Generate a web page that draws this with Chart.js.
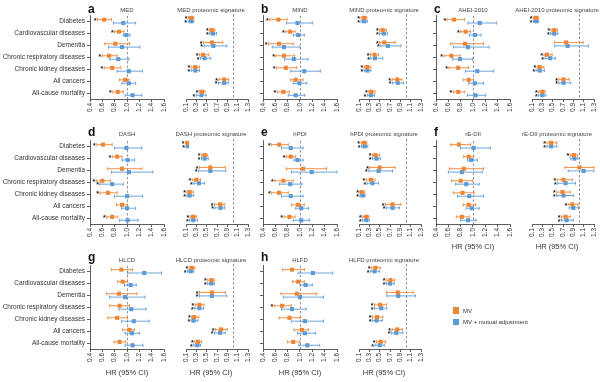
<!DOCTYPE html>
<html><head><meta charset="utf-8">
<script src="https://cdn.jsdelivr.net/npm/chart.js@4.4.1/dist/chart.umd.min.js"></script>
<style>
body{margin:0;background:#fff;}
#wrap{position:relative;width:600px;height:382px;overflow:hidden;font-family:"Liberation Sans",Arial,sans-serif;color:#333;}
#wrap canvas{position:absolute;}
.t{position:absolute;font-size:6px;color:#444;transform:translate(-50%,-50%);white-space:nowrap;line-height:1;}
.L{position:absolute;font-weight:bold;font-size:12px;color:#111;line-height:1;}
.ax{position:absolute;font-size:7.5px;color:#333;transform:translate(-50%,-50%);white-space:nowrap;line-height:1;}
.lg{position:absolute;font-size:6px;color:#333;white-space:nowrap;line-height:1;}
.sw{position:absolute;width:6.5px;height:6.5px;}
</style></head><body><div id="wrap"></div>
<script>
// ---------------- data ----------------
const categories = ["Diabetes","Cardiovascular diseases","Dementia","Chronic respiratory diseases","Chronic kidney diseases","All cancers","All-cause mortality"];
const leftTicks  = [0.4,0.6,0.8,1.0,1.2,1.4,1.6];
const rightTicks = [0.1,0.3,0.5,0.7,0.9,1.1,1.3];
const seriesNames = ["MV","MV + mutual adjustment"];
// each row: [HR, lower 95% CI, upper 95% CI, significant(1/0)]
const MED_MV  = [[0.63,0.52,0.75,1],[0.87,0.80,0.95,1],[0.81,0.64,1.04,0],[0.71,0.60,0.84,1],[0.76,0.63,0.90,1],[0.97,0.88,1.03,0],[0.85,0.77,0.94,1]];
const MED_ADJ = [[0.94,0.78,1.14,0],[0.99,0.94,1.05,0],[0.92,0.70,1.21,0],[0.86,0.72,1.03,0],[1.03,0.84,1.25,0],[1.03,0.92,1.14,0],[1.09,0.97,1.24,0]];
const MED_PS_MV  = [[0.20,0.15,0.25,1],[0.60,0.56,0.66,1],[0.60,0.44,0.81,1],[0.43,0.36,0.54,1],[0.28,0.20,0.36,1],[0.84,0.74,0.92,1],[0.41,0.36,0.47,1]];
const MED_PS_ADJ = [[0.20,0.14,0.25,1],[0.62,0.56,0.69,1],[0.63,0.45,0.89,1],[0.46,0.38,0.58,1],[0.28,0.20,0.36,1],[0.84,0.73,0.92,1],[0.40,0.30,0.49,1]];

const MIND_MV  = [[0.65,0.51,0.79,1],[0.84,0.77,0.92,1],[0.66,0.49,0.89,1],[0.74,0.61,0.91,1],[0.77,0.62,0.95,1],[0.93,0.85,1.05,0],[0.73,0.63,0.83,1]];
const MIND_ADJ = [[0.96,0.78,1.20,0],[0.97,0.89,1.07,0],[0.74,0.55,1.00,0],[0.90,0.75,1.13,0],[1.07,0.85,1.33,0],[0.99,0.89,1.11,0],[0.93,0.81,1.08,0]];
const MIND_PS_MV  = [[0.20,0.14,0.25,1],[0.56,0.50,0.63,1],[0.59,0.50,0.80,1],[0.40,0.32,0.48,1],[0.26,0.20,0.33,1],[0.84,0.74,0.93,1],[0.34,0.29,0.41,1]];
const MIND_PS_ADJ = [[0.20,0.14,0.26,1],[0.58,0.50,0.65,1],[0.66,0.52,0.91,1],[0.41,0.33,0.56,1],[0.26,0.20,0.33,1],[0.85,0.75,0.96,1],[0.33,0.26,0.40,1]];

const AHEI_MV  = [[0.69,0.58,0.86,1],[0.88,0.80,0.96,1],[0.87,0.64,1.17,0],[0.65,0.53,0.79,1],[0.76,0.61,0.93,1],[0.93,0.84,1.01,0],[0.76,0.68,0.86,1]];
const AHEI_ADJ = [[1.11,0.92,1.38,0],[1.03,0.94,1.13,0],[0.92,0.68,1.26,0],[0.79,0.67,0.99,0],[1.07,0.88,1.33,0],[1.03,0.93,1.17,0],[1.04,0.91,1.20,0]];
const AHEI_PS_MV  = [[0.18,0.13,0.23,1],[0.53,0.47,0.59,1],[0.76,0.53,1.09,0],[0.39,0.33,0.49,1],[0.25,0.20,0.33,1],[0.71,0.62,0.82,1],[0.30,0.23,0.35,1]];
const AHEI_PS_ADJ = [[0.18,0.13,0.23,1],[0.53,0.46,0.60,1],[0.79,0.54,1.19,0],[0.45,0.35,0.55,1],[0.25,0.18,0.34,1],[0.71,0.62,0.85,1],[0.30,0.23,0.37,1]];

const DASH_MV  = [[0.61,0.51,0.76,1],[0.84,0.76,0.92,1],[0.92,0.68,1.24,0],[0.60,0.50,0.73,1],[0.69,0.56,0.84,1],[0.92,0.83,1.01,0],[0.76,0.67,0.85,1]];
const DASH_ADJ = [[0.99,0.80,1.24,0],[1.01,0.92,1.12,0],[1.03,0.75,1.42,0],[0.76,0.56,0.94,1],[1.00,0.80,1.25,0],[1.00,0.91,1.14,0],[1.01,0.88,1.18,0]];
const DASH_PS_MV  = [[0.12,0.09,0.14,1],[0.46,0.40,0.52,1],[0.57,0.36,0.86,1],[0.30,0.22,0.38,1],[0.17,0.12,0.24,1],[0.76,0.65,0.84,1],[0.24,0.18,0.30,1]];
const DASH_PS_ADJ = [[0.12,0.10,0.15,1],[0.46,0.40,0.53,1],[0.57,0.34,0.87,1],[0.35,0.25,0.46,1],[0.17,0.12,0.25,1],[0.77,0.66,0.85,1],[0.24,0.17,0.32,1]];

const HPDI_MV  = [[0.66,0.54,0.81,1],[0.85,0.78,0.93,1],[1.05,0.78,1.43,0],[0.73,0.59,0.89,1],[0.66,0.54,0.81,1],[0.97,0.86,1.07,0],[0.83,0.74,0.92,1]];
const HPDI_ADJ = [[0.85,0.70,1.05,0],[0.96,0.90,1.05,0],[1.19,0.86,1.60,0],[0.84,0.67,1.03,0],[0.85,0.70,1.05,0],[1.02,0.93,1.14,0],[1.02,0.89,1.15,0]];
const HPDI_PS_MV  = [[0.20,0.14,0.25,1],[0.42,0.36,0.50,1],[0.50,0.31,0.80,1],[0.33,0.24,0.41,1],[0.15,0.12,0.21,1],[0.75,0.61,0.91,1],[0.24,0.17,0.29,1]];
const HPDI_PS_ADJ = [[0.21,0.15,0.27,1],[0.44,0.36,0.52,1],[0.48,0.29,0.75,1],[0.36,0.26,0.48,1],[0.17,0.12,0.22,1],[0.75,0.63,0.88,1],[0.24,0.17,0.30,1]];

const EDII_MV  = [[0.77,0.64,0.96,0],[0.93,0.85,1.01,0],[0.85,0.62,1.17,0],[0.80,0.65,0.99,0],[0.83,0.68,1.02,0],[0.93,0.84,1.04,0],[0.82,0.73,0.94,0]];
const EDII_ADJ = [[1.01,0.80,1.28,0],[0.97,0.91,1.07,0],[0.82,0.60,1.15,0],[0.89,0.72,1.10,0],[0.94,0.75,1.17,0],[0.98,0.89,1.10,0],[0.92,0.80,1.05,0]];
const EDII_PS_MV  = [[0.47,0.39,0.58,1],[0.91,0.84,0.98,1],[1.02,0.74,1.30,0],[0.71,0.59,0.88,1],[0.69,0.58,0.84,1],[0.88,0.80,0.99,1],[0.75,0.67,0.84,1]];
const EDII_PS_ADJ = [[0.47,0.39,0.58,1],[0.92,0.84,0.99,0],[1.10,0.80,1.30,0],[0.75,0.60,0.94,1],[0.71,0.58,0.90,1],[0.90,0.82,1.00,0],[0.77,0.67,0.90,1]];

const HLCD_MV  = [[0.91,0.75,1.09,0],[0.93,0.85,1.01,0],[0.87,0.67,1.16,0],[0.88,0.72,1.04,0],[0.84,0.69,1.01,0],[1.04,0.93,1.12,0],[0.88,0.79,0.98,0]];
const HLCD_ADJ = [[1.28,1.01,1.56,0],[1.06,0.96,1.15,0],[0.97,0.72,1.29,0],[1.07,0.87,1.31,0],[1.11,0.91,1.36,0],[1.08,0.97,1.20,0],[1.09,0.97,1.26,0]];
const HLCD_PS_MV  = [[0.21,0.16,0.27,1],[0.59,0.52,0.65,1],[0.60,0.36,0.86,1],[0.36,0.28,0.45,1],[0.26,0.21,0.35,1],[0.78,0.67,0.90,1],[0.33,0.27,0.40,1]];
const HLCD_PS_ADJ = [[0.19,0.13,0.25,1],[0.59,0.52,0.65,1],[0.60,0.36,0.89,1],[0.36,0.27,0.44,1],[0.25,0.20,0.33,1],[0.76,0.65,0.86,1],[0.32,0.25,0.38,1]];

const HLFD_MV  = [[0.87,0.72,1.07,0],[0.97,0.88,1.07,0],[0.95,0.69,1.27,0],[0.71,0.58,0.86,1],[0.83,0.66,1.00,0],[1.03,0.90,1.14,0],[0.89,0.80,0.99,0]];
const HLFD_ADJ = [[1.21,0.97,1.53,0],[1.09,1.00,1.20,0],[1.00,0.73,1.38,0],[0.87,0.70,1.10,0],[1.08,0.86,1.38,0],[1.08,0.96,1.25,0],[1.12,0.98,1.32,0]];
const HLFD_PS_MV  = [[0.42,0.34,0.51,1],[0.71,0.63,0.79,1],[0.85,0.63,1.15,0],[0.51,0.40,0.63,1],[0.45,0.36,0.56,1],[0.84,0.74,0.94,1],[0.52,0.44,0.61,1]];
const HLFD_PS_ADJ = [[0.40,0.32,0.50,1],[0.70,0.63,0.78,1],[0.86,0.64,1.19,0],[0.53,0.40,0.64,1],[0.44,0.36,0.55,1],[0.82,0.73,0.95,1],[0.50,0.41,0.59,1]];

const panelLetters = ["a","b","c","d","e","f","g","h"];
const panelNames = ["MED","MIND","AHEI-2010","DASH","hPDI","rE-DII","HLCD","HLFD"];
const panelData = [
  [MED_MV,MED_ADJ,MED_PS_MV,MED_PS_ADJ],[MIND_MV,MIND_ADJ,MIND_PS_MV,MIND_PS_ADJ],[AHEI_MV,AHEI_ADJ,AHEI_PS_MV,AHEI_PS_ADJ],
  [DASH_MV,DASH_ADJ,DASH_PS_MV,DASH_PS_ADJ],[HPDI_MV,HPDI_ADJ,HPDI_PS_MV,HPDI_PS_ADJ],[EDII_MV,EDII_ADJ,EDII_PS_MV,EDII_PS_ADJ],
  [HLCD_MV,HLCD_ADJ,HLCD_PS_MV,HLCD_PS_ADJ],[HLFD_MV,HLFD_ADJ,HLFD_PS_MV,HLFD_PS_ADJ]
];
const axisTitle = "HR (95% CI)";
const subtitleSuffix = " proteomic signature";

// ---------------- layout & style ----------------
const FONT = '"Liberation Sans", Arial, sans-serif';
const ORANGE = '#EE8636', BLUE = '#5C9BD6', INK = '#333';
const COLX = [90, 263, 436], RIGHT_OFF = 84, PW = 74;
const ROWT = [14, 139, 264], PH = 85;
const OFF = 0.14;
const wrap = document.getElementById('wrap');

const ciPlugin = {
  id: 'ci',
  beforeDatasetsDraw(chart) {
    const {ctx, chartArea} = chart; const x = chart.scales.x, y = chart.scales.y;
    ctx.save();
    const x1 = Math.round(x.getPixelForValue(1)) + 0.5;
    ctx.strokeStyle = '#777'; ctx.lineWidth = 0.8; ctx.setLineDash([2.5, 2]);
    ctx.beginPath(); ctx.moveTo(x1, chartArea.top); ctx.lineTo(x1, chartArea.bottom); ctx.stroke();
    ctx.setLineDash([]);
    chart.data.datasets.forEach(ds => {
      ds.ci.forEach((d, i) => {
        const yy = y.getPixelForValue(i + ds.off);
        const a = x.getPixelForValue(d[1]), b = x.getPixelForValue(d[2]);
        ctx.strokeStyle = ds.borderColor; ctx.lineWidth = 0.9;
        ctx.beginPath();
        ctx.moveTo(a, yy); ctx.lineTo(b, yy);
        ctx.moveTo(a, yy - 1.6); ctx.lineTo(a, yy + 1.6);
        ctx.moveTo(b, yy - 1.6); ctx.lineTo(b, yy + 1.6);
        ctx.stroke();
        if (d[3]) {
          ctx.fillStyle = '#222'; ctx.font = 'bold 7px ' + FONT;
          ctx.textAlign = 'right'; ctx.textBaseline = 'middle';
          ctx.fillText('*', a - 1, yy + 1.4);
        }
      });
    });
    ctx.restore();
  }
};

function makeChart(plotLeft, plotTop, mv, adj, ticks, showY, showLabels) {
  const L = showLabels ? 88 : 12, T = 4, R = 10, B = 22;
  const cv = document.createElement('canvas');
  cv.width = L + PW + R; cv.height = T + PH + B;
  cv.style.left = (plotLeft - L) + 'px'; cv.style.top = (plotTop - T) + 'px';
  cv.style.width = cv.width + 'px'; cv.style.height = cv.height + 'px';
  wrap.appendChild(cv);
  const mk = (arr, off, col, name) => ({
    label: name, data: arr.map((d, i) => ({x: d[0], y: i + off})), ci: arr, off: off,
    backgroundColor: col, borderColor: col, pointStyle: 'rect', pointRadius: 2.9, pointHoverRadius: 2.9, borderWidth: 0
  });
  new Chart(cv, {
    type: 'scatter',
    data: {datasets: [mk(mv, -OFF, ORANGE, seriesNames[0]), mk(adj, OFF, BLUE, seriesNames[1])]},
    options: {
      responsive: false, animation: false, devicePixelRatio: 1,
      layout: {padding: {top: T, right: R, left: showY ? 0 : L, bottom: 0}},
      plugins: {legend: {display: false}, tooltip: {enabled: false}},
      scales: {
        x: {
          type: 'linear', min: ticks[0], max: ticks[ticks.length - 1],
          afterBuildTicks: s => { s.ticks = ticks.map(v => ({value: v})); },
          afterFit: s => { s.height = B; },
          ticks: {autoSkip: false, minRotation: 90, maxRotation: 90, padding: 1, color: INK,
                  font: {size: 6.5, family: FONT}, callback: v => Number(v).toFixed(1)},
          grid: {display: true, drawOnChartArea: false, drawTicks: true, tickLength: 3, color: INK, lineWidth: 0.8},
          border: {display: true, color: INK, width: 0.8}
        },
        y: {
          type: 'linear', display: showY, reverse: true, min: -0.45, max: 6.45,
          afterBuildTicks: s => { s.ticks = categories.map((c, i) => ({value: i})); },
          afterFit: s => { s.width = L; },
          ticks: {autoSkip: false, padding: 2, color: INK, font: {size: 6.5, family: FONT},
                  callback: (v, i) => showLabels ? categories[i] : ''},
          grid: {display: true, drawOnChartArea: false, drawTicks: true, tickLength: 3, color: INK, lineWidth: 0.8},
          border: {display: true, color: INK, width: 0.8}
        }
      }
    },
    plugins: [ciPlugin]
  });
}

function addText(cls, txt, x, y) {
  const d = document.createElement('div'); d.className = cls; d.textContent = txt;
  d.style.left = x + 'px'; d.style.top = y + 'px'; wrap.appendChild(d); return d;
}

const titleY = [9.5, 134, 259.5];
const letterY = [2.5, 126, 250.5];
panelData.forEach((pd, p) => {
  const col = p % 3, row = Math.floor(p / 3);
  const xl = COLX[col], xr = COLX[col] + RIGHT_OFF, yt = ROWT[row];
  makeChart(xl, yt, pd[0], pd[1], leftTicks, true, col === 0);
  makeChart(xr, yt, pd[2], pd[3], rightTicks, false, false);
  addText('t', panelNames[p], xl + PW / 2, titleY[row]);
  addText('t', panelNames[p] + subtitleSuffix, xr + PW / 2, titleY[row]);
  addText('L', panelLetters[p], xl - 2, letterY[row]);
  if (p === 5 || row === 2) {
    const ay = row === 1 ? 247 : 373;
    addText('ax', axisTitle, xl + PW / 2, ay);
    addText('ax', axisTitle, xr + PW / 2, ay);
  }
});

// legend
[[ORANGE, seriesNames[0], 307.3], [BLUE, seriesNames[1], 318.5]].forEach(([c, name, y]) => {
  const s = document.createElement('div'); s.className = 'sw'; s.style.background = c;
  s.style.left = '452.7px'; s.style.top = y + 'px'; wrap.appendChild(s);
  addText('lg', name, 463, y + 0.5);
});
</script></body></html>
